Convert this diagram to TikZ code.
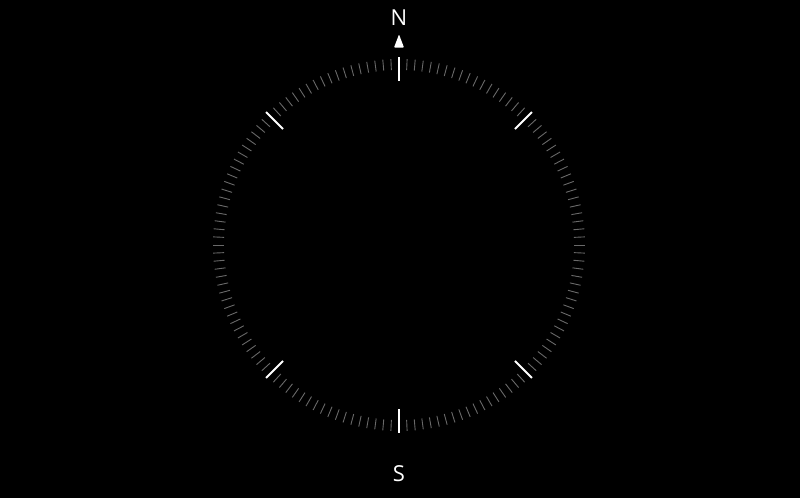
\documentclass[tikz,border=0pt]{standalone}
\usepackage{fontspec}
\setmainfont{Open Sans}
\usetikzlibrary{calc}
\definecolor{minortick}{RGB}{105,105,105}
\begin{document}
\begin{tikzpicture}[x=1pt,y=-1pt,
  minor/.style={draw=minortick,line width=0.9pt},
  major/.style={draw=white,line width=1.8pt},
  lbl/.style={text=white,font=\fontsize{22}{22}\selectfont,inner sep=0pt,anchor=center}]
\fill[black] (0,0) rectangle (800,498);
\useasboundingbox (0,0) rectangle (800,498);
\coordinate (c) at (399,245);
\foreach \a in {0,2.5,...,357.5}{
  \pgfmathparse{(mod(\a,45)==0 && mod(\a,90)!=0) || \a==90 || \a==270 ? 1 : 0}
  \ifnum\pgfmathresult=0
    \draw[minor] ($(c)+(\a:175)$) -- ($(c)+(\a:186)$);
  \fi
}
\foreach \a in {45,90,135,225,270,315}{
  \draw[major] ($(c)+(\a:164)$) -- ($(c)+(\a:188)$);
}
\fill[white,rounded corners=0.8pt] (399,34.5) -- (404,47.5) -- (394,47.5) -- cycle;
\node[lbl] (n) at (399,18) {N};
\node[lbl] (s) at (399,473.5) {S};
\end{tikzpicture}
\end{document}
